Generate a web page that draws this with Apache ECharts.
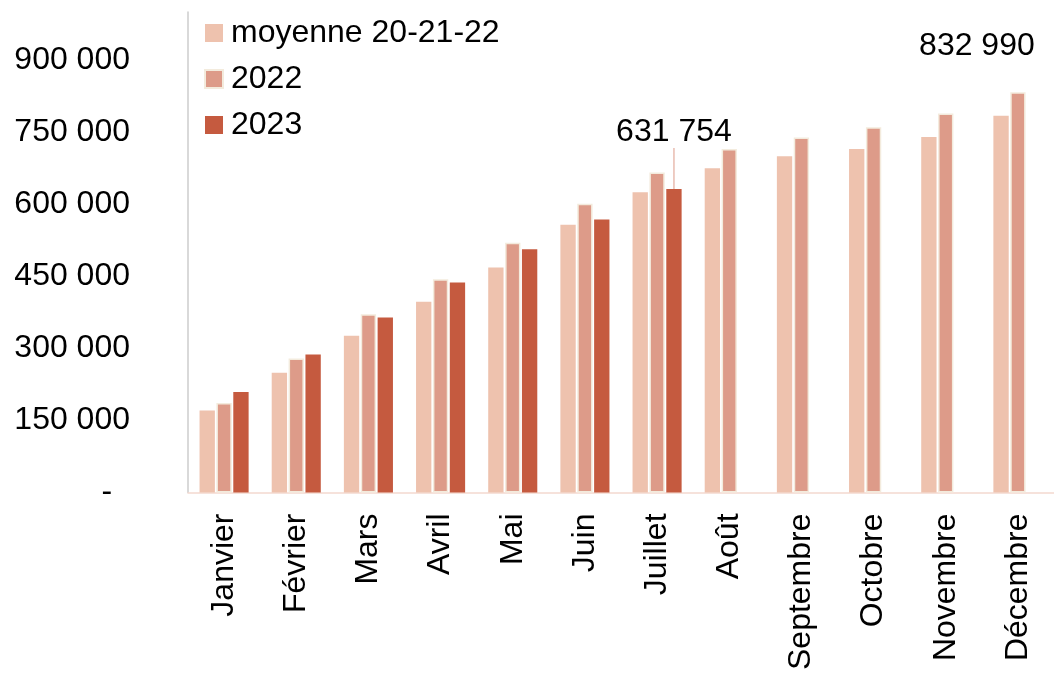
<!DOCTYPE html>
<html>
<head>
<meta charset="utf-8">
<script src="https://cdn.jsdelivr.net/npm/echarts@6/dist/echarts.min.js"></script>
<style>html,body{margin:0;padding:0;background:#fff;}#c{width:1054px;height:673px;}</style>
</head>
<body>
<div id="c"></div>
<script>
var categories = ['Janvier','Février','Mars','Avril','Mai','Juin','Juillet','Août','Septembre','Octobre','Novembre','Décembre'];
var moyenne = [170500, 249000, 326000, 397000, 468000, 557000, 625000, 675000, 700000, 715000, 740000, 784000];
var v2022 = [186000, 279000, 371000, 444000, 520000, 601000, 666000, 715000, 739000, 760000, 789000, 832990];
var v2023 = [209000, 287000, 364000, 437000, 506000, 568000, 631754, null, null, null, null, null];
var yTicks = [0, 150000, 300000, 450000, 600000, 750000, 900000];

var FONT = 'Liberation Sans, Arial, sans-serif';
function fmt(v){
  if (v === 0) return '-  ';
  if (yTicks.indexOf(v) < 0) return '';
  return String(v).replace(/\B(?=(\d{3})+(?!\d))/g, ' ');
}
var d2022 = v2022.map(function(v, i){
  if (i === 11) return {value: v, label: {show: true, formatter: '832 990'}};
  return v;
});
var d2023 = v2023.map(function(v, i){
  if (i === 6) return {value: v, label: {show: true, formatter: '631 754'}};
  return v;
});

var chart = echarts.init(document.getElementById('c'));
chart.setOption({
  animation: false,
  backgroundColor: '#fff',
  textStyle: {fontFamily: FONT},
  legend: {
    orient: 'vertical', left: 199, top: 12, icon: 'rect',
    itemWidth: 18, itemHeight: 18, itemGap: 14,
    textStyle: {fontSize: 32, color: '#000', fontFamily: FONT, padding: [0,0,0,3]},
    data: ['moyenne 20-21-22', '2022', '2023']
  },
  grid: {left: 188, right: -4, top: 12, bottom: 179, containLabel: false},
  xAxis: {
    type: 'category', data: categories,
    axisLine: {lineStyle: {color: '#f3d9d0', width: 1.5}},
    axisTick: {show: false},
    axisLabel: {rotate: 90, fontSize: 32, color: '#000', margin: 21, fontFamily: FONT, interval: 0}
  },
  yAxis: {
    type: 'value', min: 0, max: 1000000, interval: 150000,
    axisLine: {show: true, lineStyle: {color: '#cccccc', width: 1.5}},
    axisTick: {show: false},
    splitLine: {show: false},
    axisLabel: {fontSize: 32, color: '#000', margin: 58, fontFamily: FONT, formatter: fmt}
  },
  series: [
    {name: 'moyenne 20-21-22', type: 'bar', data: moyenne, barGap: '10%', barCategoryGap: '32%',
     itemStyle: {color: '#eec2ae'}},
    {name: '2022', type: 'bar', data: d2022,
     itemStyle: {color: '#dd9b89', borderColor: '#f3ebdd', borderWidth: 1.5},
     label: {show: false, position: 'top', fontSize: 32, color: '#000', fontFamily: FONT},
     labelLayout: {dx: -41, dy: -25},
     labelLine: {show: false}},
    {name: '2023', type: 'bar', data: d2023,
     itemStyle: {color: '#c55a3f'},
     label: {show: false, position: 'top', fontSize: 32, color: '#000', fontFamily: FONT},
     labelLayout: {dx: 0, dy: -36},
     labelLine: {show: true, lineStyle: {color: '#e9bcb0', width: 1.5}}}
  ]
});
</script>
</body>
</html>
